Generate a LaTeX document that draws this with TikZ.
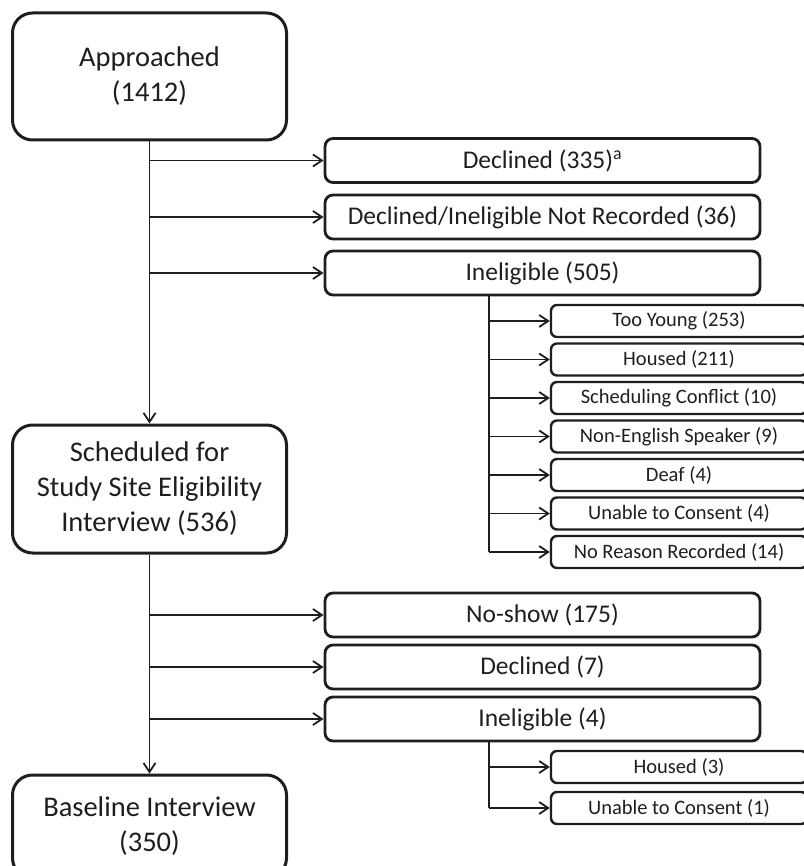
\documentclass[tikz,border=0pt]{standalone}
\usepackage{fontspec}
\setmainfont{Carlito}
\usetikzlibrary{arrows.meta}
\definecolor{ink}{HTML}{1E1E1E}
\tikzset{
  bigbox/.style={draw=ink, line width=3pt, rounded corners=20pt, minimum width=274pt, align=center, text=ink, font=\fontsize{28.5}{35}\selectfont, inner sep=0pt},
  midbox/.style={draw=ink, line width=2.8pt, rounded corners=8pt, minimum width=435pt, minimum height=44pt, text=ink, font=\fontsize{25.5}{30}\selectfont, inner sep=0pt},
  subbox/.style={draw=ink, line width=2.4pt, rounded corners=6pt, minimum width=256pt, minimum height=32pt, text=ink, font=\fontsize{20.5}{24}\selectfont, inner sep=0pt},
  conn/.style={draw=ink, line width=1.8pt},
  arr/.style={conn, -{Straight Barb[length=9pt,width=12pt]}}
}
\begin{document}
\begin{tikzpicture}[x=1pt,y=-1pt]
\useasboundingbox (0,0) rectangle (803,866);
% main column
\node[bigbox, minimum height=127pt] (app) at (149.5,76.5) {Approached\\(1412)};
\node[bigbox, minimum height=128pt] (sch) at (149.5,489) {Scheduled for\\Study Site Eligibility\\Interview (536)};
\node[bigbox, minimum height=103pt] (base) at (149.5,826.5) {Baseline Interview\\(350)};
% first group
\node[midbox] (d1) at (542.5,160.5) {Declined (335)\textsuperscript{a}};
\node[midbox] (d2) at (542.5,217) {Declined/Ineligible Not Recorded (36)};
\node[midbox] (d3) at (542.5,273) {Ineligible (505)};
\node[subbox] (t1) at (679,321) {Too Young (253)};
\node[subbox] (t2) at (679,359.5) {Housed (211)};
\node[subbox] (t3) at (679,398) {Scheduling Conflict (10)};
\node[subbox] (t4) at (679,436.5) {Non-English Speaker (9)};
\node[subbox] (t5) at (679,475) {Deaf (4)};
\node[subbox] (t6) at (679,513.5) {Unable to Consent (4)};
\node[subbox] (t7) at (679,552) {No Reason Recorded (14)};
% second group
\node[midbox] (e1) at (542.5,615) {No-show (175)};
\node[midbox] (e2) at (542.5,667) {Declined (7)};
\node[midbox] (e3) at (542.5,719) {Ineligible (4)};
\node[subbox] (u1) at (679,767) {Housed (3)};
\node[subbox] (u2) at (679,808) {Unable to Consent (1)};
% connectors
\draw[arr] (app.south) -- (sch.north);
\draw[arr] (app.south |- d1.west) -- (d1.west);
\draw[arr] (app.south |- d2.west) -- (d2.west);
\draw[arr] (app.south |- d3.west) -- (d3.west);
\coordinate (j1) at (489,295);
\draw[conn] (j1) -- (j1 |- t7.west);
\foreach \t in {t1,t2,t3,t4,t5,t6,t7} {\draw[arr] (j1 |- \t.west) -- (\t.west);}
\draw[arr] (sch.south) -- (base.north);
\draw[arr] (sch.south |- e1.west) -- (e1.west);
\draw[arr] (sch.south |- e2.west) -- (e2.west);
\draw[arr] (sch.south |- e3.west) -- (e3.west);
\coordinate (j2) at (489,741);
\draw[conn] (j2) -- (j2 |- u2.west);
\foreach \u in {u1,u2} {\draw[arr] (j2 |- \u.west) -- (\u.west);}
\end{tikzpicture}
\end{document}
